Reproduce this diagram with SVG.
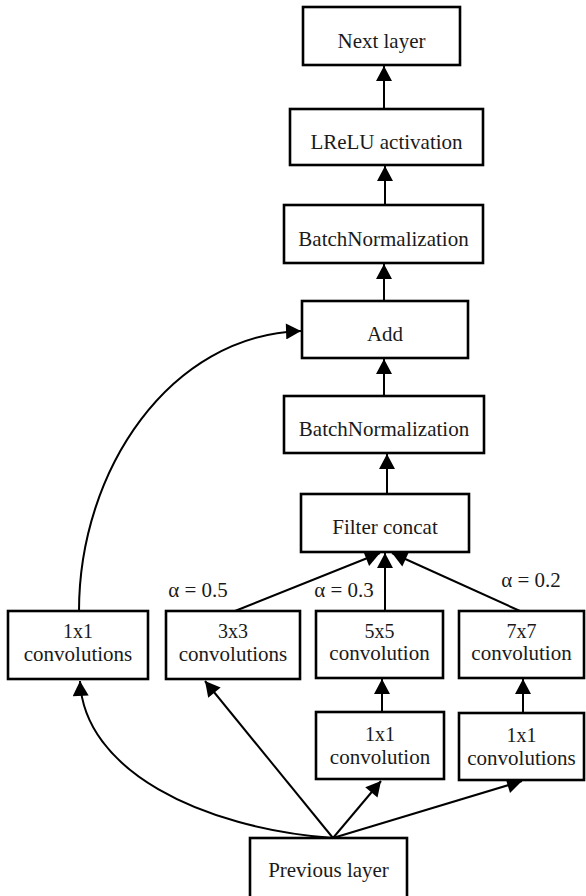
<svg xmlns="http://www.w3.org/2000/svg" width="586" height="896" viewBox="0 0 586 896">
<defs>
<style>
.box{fill:#fff;stroke:#000;stroke-width:2.6}
text{font-family:'Liberation Serif','Times New Roman','DejaVu Serif',serif;font-size:21px;fill:#1a1a1a;text-anchor:middle}
.s{font-size:20px}
.c{fill:none;stroke:#000;stroke-width:2;marker-end:url(#ah)}
</style>
<marker id="ah" markerUnits="userSpaceOnUse" markerWidth="16" markerHeight="16" viewBox="0 0 14 15" refX="14" refY="7.5" orient="auto">
<path d="M0,0 L14,7.5 L0,15 z" fill="#000"/>
</marker>
</defs>
<rect width="586" height="896" fill="#fff"/>
<g id="connectors">
<line class="c" x1="384" y1="109" x2="384" y2="66"/>
<line class="c" x1="385" y1="205" x2="385" y2="166"/>
<line class="c" x1="384" y1="301" x2="384" y2="264"/>
<line class="c" x1="384" y1="396" x2="384" y2="359"/>
<line class="c" x1="387" y1="494" x2="387" y2="454"/>
<line class="c" x1="235" y1="611" x2="380" y2="553"/>
<line class="c" x1="385" y1="611" x2="385" y2="553"/>
<line class="c" x1="520" y1="611" x2="392" y2="553"/>
<line class="c" x1="382" y1="712" x2="382" y2="679"/>
<line class="c" x1="523" y1="713" x2="523" y2="679"/>
<line class="c" x1="333" y1="838" x2="381" y2="781"/>
<line class="c" x1="333" y1="838" x2="522" y2="781"/>
<line class="c" x1="333" y1="838" x2="205" y2="681"/>
<path class="c" d="M333,838 C200,828 84,770 80,681"/>
<path class="c" d="M79,611 C79,470 170,335 301,331"/>
</g>
<g id="next"><rect class="box" x="303" y="7" width="157" height="58"/><text x="381.5" y="48" font-family="Liberation Serif, serif">Next layer</text></g>
<g id="lrelu"><rect class="box" x="290" y="109" width="193" height="56"/><text x="386.5" y="149" font-family="Liberation Serif, serif">LReLU activation</text></g>
<g id="bn1"><rect class="box" x="284" y="205" width="199" height="58"/><text x="383.5" y="246" font-family="Liberation Serif, serif">BatchNormalization</text></g>
<g id="add"><rect class="box" x="302" y="301" width="166" height="57"/><text x="385" y="341" font-family="Liberation Serif, serif">Add</text></g>
<g id="bn2"><rect class="box" x="284" y="396" width="200" height="57"/><text x="384" y="436" font-family="Liberation Serif, serif">BatchNormalization</text></g>
<g id="concat"><rect class="box" x="301" y="494" width="168" height="58"/><text x="385" y="534" font-family="Liberation Serif, serif">Filter concat</text></g>
<g id="conv1x1a"><rect class="box" x="8" y="611" width="140" height="68"/><text class="s" x="78" y="638">1x1</text><text x="78" y="661">convolutions</text></g>
<g id="conv3x3"><rect class="box" x="166" y="611" width="134" height="68"/><text class="s" x="233" y="638">3x3</text><text x="233" y="661">convolutions</text></g>
<g id="conv5x5"><rect class="box" x="316" y="611" width="127" height="67"/><text class="s" x="379.5" y="638">5x5</text><text x="379.5" y="660">convolution</text></g>
<g id="conv7x7"><rect class="box" x="459" y="611" width="125" height="67"/><text class="s" x="521.5" y="638">7x7</text><text x="521.5" y="660">convolution</text></g>
<g id="conv1x1b"><rect class="box" x="316" y="712" width="128" height="67"/><text class="s" x="380" y="741">1x1</text><text x="380" y="764">convolution</text></g>
<g id="conv1x1c"><rect class="box" x="459" y="713" width="125" height="67"/><text class="s" x="521.5" y="742">1x1</text><text x="521.5" y="765">convolutions</text></g>
<g id="prev"><rect class="box" x="250" y="838" width="157" height="70"/><text x="328.5" y="877">Previous layer</text></g>
<g id="labels">
<text x="198" y="597">α = 0.5</text>
<text x="344" y="597">α = 0.3</text>
<text x="531" y="587">α = 0.2</text>
</g>
</svg>
